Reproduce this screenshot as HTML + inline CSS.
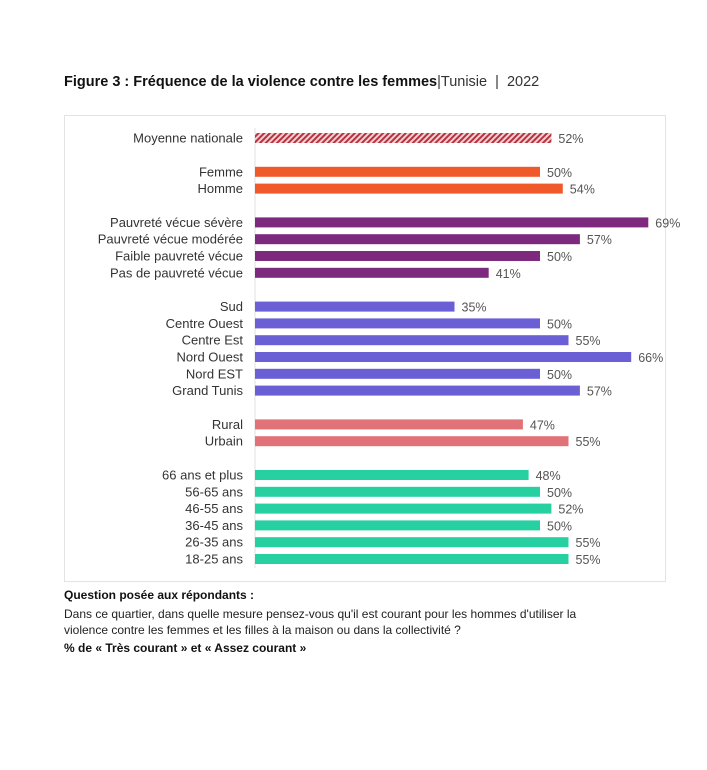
<!DOCTYPE html>
<html><head><meta charset="utf-8"><style>
body{margin:0;background:#fff;font-family:"Liberation Sans",sans-serif;}
#wrap{position:relative;width:707px;height:770px;}
.t{position:absolute;white-space:nowrap;}
</style></head><body>
<div id="wrap">
<div class="t" style="left:64px;top:74px;font-size:14.5px;color:#111;"><b>Figure 3 : Fréquence de la violence contre les femmes</b><span style="color:#333">|Tunisie&nbsp; | &nbsp;2022</span></div>
<svg id="chart" width="707" height="770" style="position:absolute;left:0;top:0">
<defs><pattern id="hatch" width="4" height="4" patternUnits="userSpaceOnUse" patternTransform="rotate(45)"><rect width="4" height="4" fill="#f3d0d3"/><rect width="2" height="4" fill="#b8323e"/></pattern></defs>
<rect x="64.5" y="115.5" width="601" height="466" fill="none" stroke="#e3e3e3"/>
<line x1="255" y1="128" x2="255" y2="568" stroke="#e0e0e0"/>
</svg>
<div class="t" style="left:64px;top:588px;font-size:12px;font-weight:bold;color:#111">Question posée aux répondants :</div>
<div class="t" style="left:64px;top:606px;font-size:12px;color:#222;line-height:16px">Dans ce quartier, dans quelle mesure pensez-vous qu'il est courant pour les hommes d'utiliser la<br>violence contre les femmes et les filles à la maison ou dans la collectivité ?</div>
<div class="t" style="left:64px;top:641px;font-size:12px;font-weight:bold;color:#111">% de « Très courant » et « Assez courant »</div>
</div>
<script>
const categories=["Moyenne nationale","Femme","Homme","Pauvreté vécue sévère","Pauvreté vécue modérée","Faible pauvreté vécue","Pas de pauvreté vécue","Sud","Centre Ouest","Centre Est","Nord Ouest","Nord EST","Grand Tunis","Rural","Urbain","66 ans et plus","56-65 ans","46-55 ans","36-45 ans","26-35 ans","18-25 ans"];
const values=[52,50,54,69,57,50,41,35,50,55,66,50,57,47,55,48,50,52,50,55,55];
const groups=[0,1,1,2,2,2,2,3,3,3,3,3,3,4,4,5,5,5,5,5,5];
const colors=["url(#hatch)","#f05a2a","#7d2a7e","#6a5fd4","#e07278","#26d0a0"];
const svg=document.getElementById('chart');const NS="http://www.w3.org/2000/svg";
const x0=255,k=5.7;
function xs(v){return x0+v*k;}
function ys(i){return 138+i*16.8+groups[i]*17;}
categories.forEach((c,i)=>{
 const y=ys(i);
 const r=document.createElementNS(NS,'rect');
 
 
 r.setAttribute('x',x0);r.setAttribute('y',y-5);r.setAttribute('width',xs(values[i])-x0);r.setAttribute('height',10);r.setAttribute('fill',colors[groups[i]]);
 svg.appendChild(r);
 const l=document.createElementNS(NS,'text');
 
 
 l.setAttribute('x',243);l.setAttribute('y',y+4.5);l.setAttribute('text-anchor','end');l.setAttribute('font-size','13');l.setAttribute('fill','#333');l.textContent=c;
 svg.appendChild(l);
 const v=document.createElementNS(NS,'text');
 
 
 v.setAttribute('x',xs(values[i])+7);v.setAttribute('y',y+5);v.setAttribute('font-size','12.5');v.setAttribute('fill','#555');v.textContent=values[i]+'%';
 svg.appendChild(v);
});
</script>
</body></html>
